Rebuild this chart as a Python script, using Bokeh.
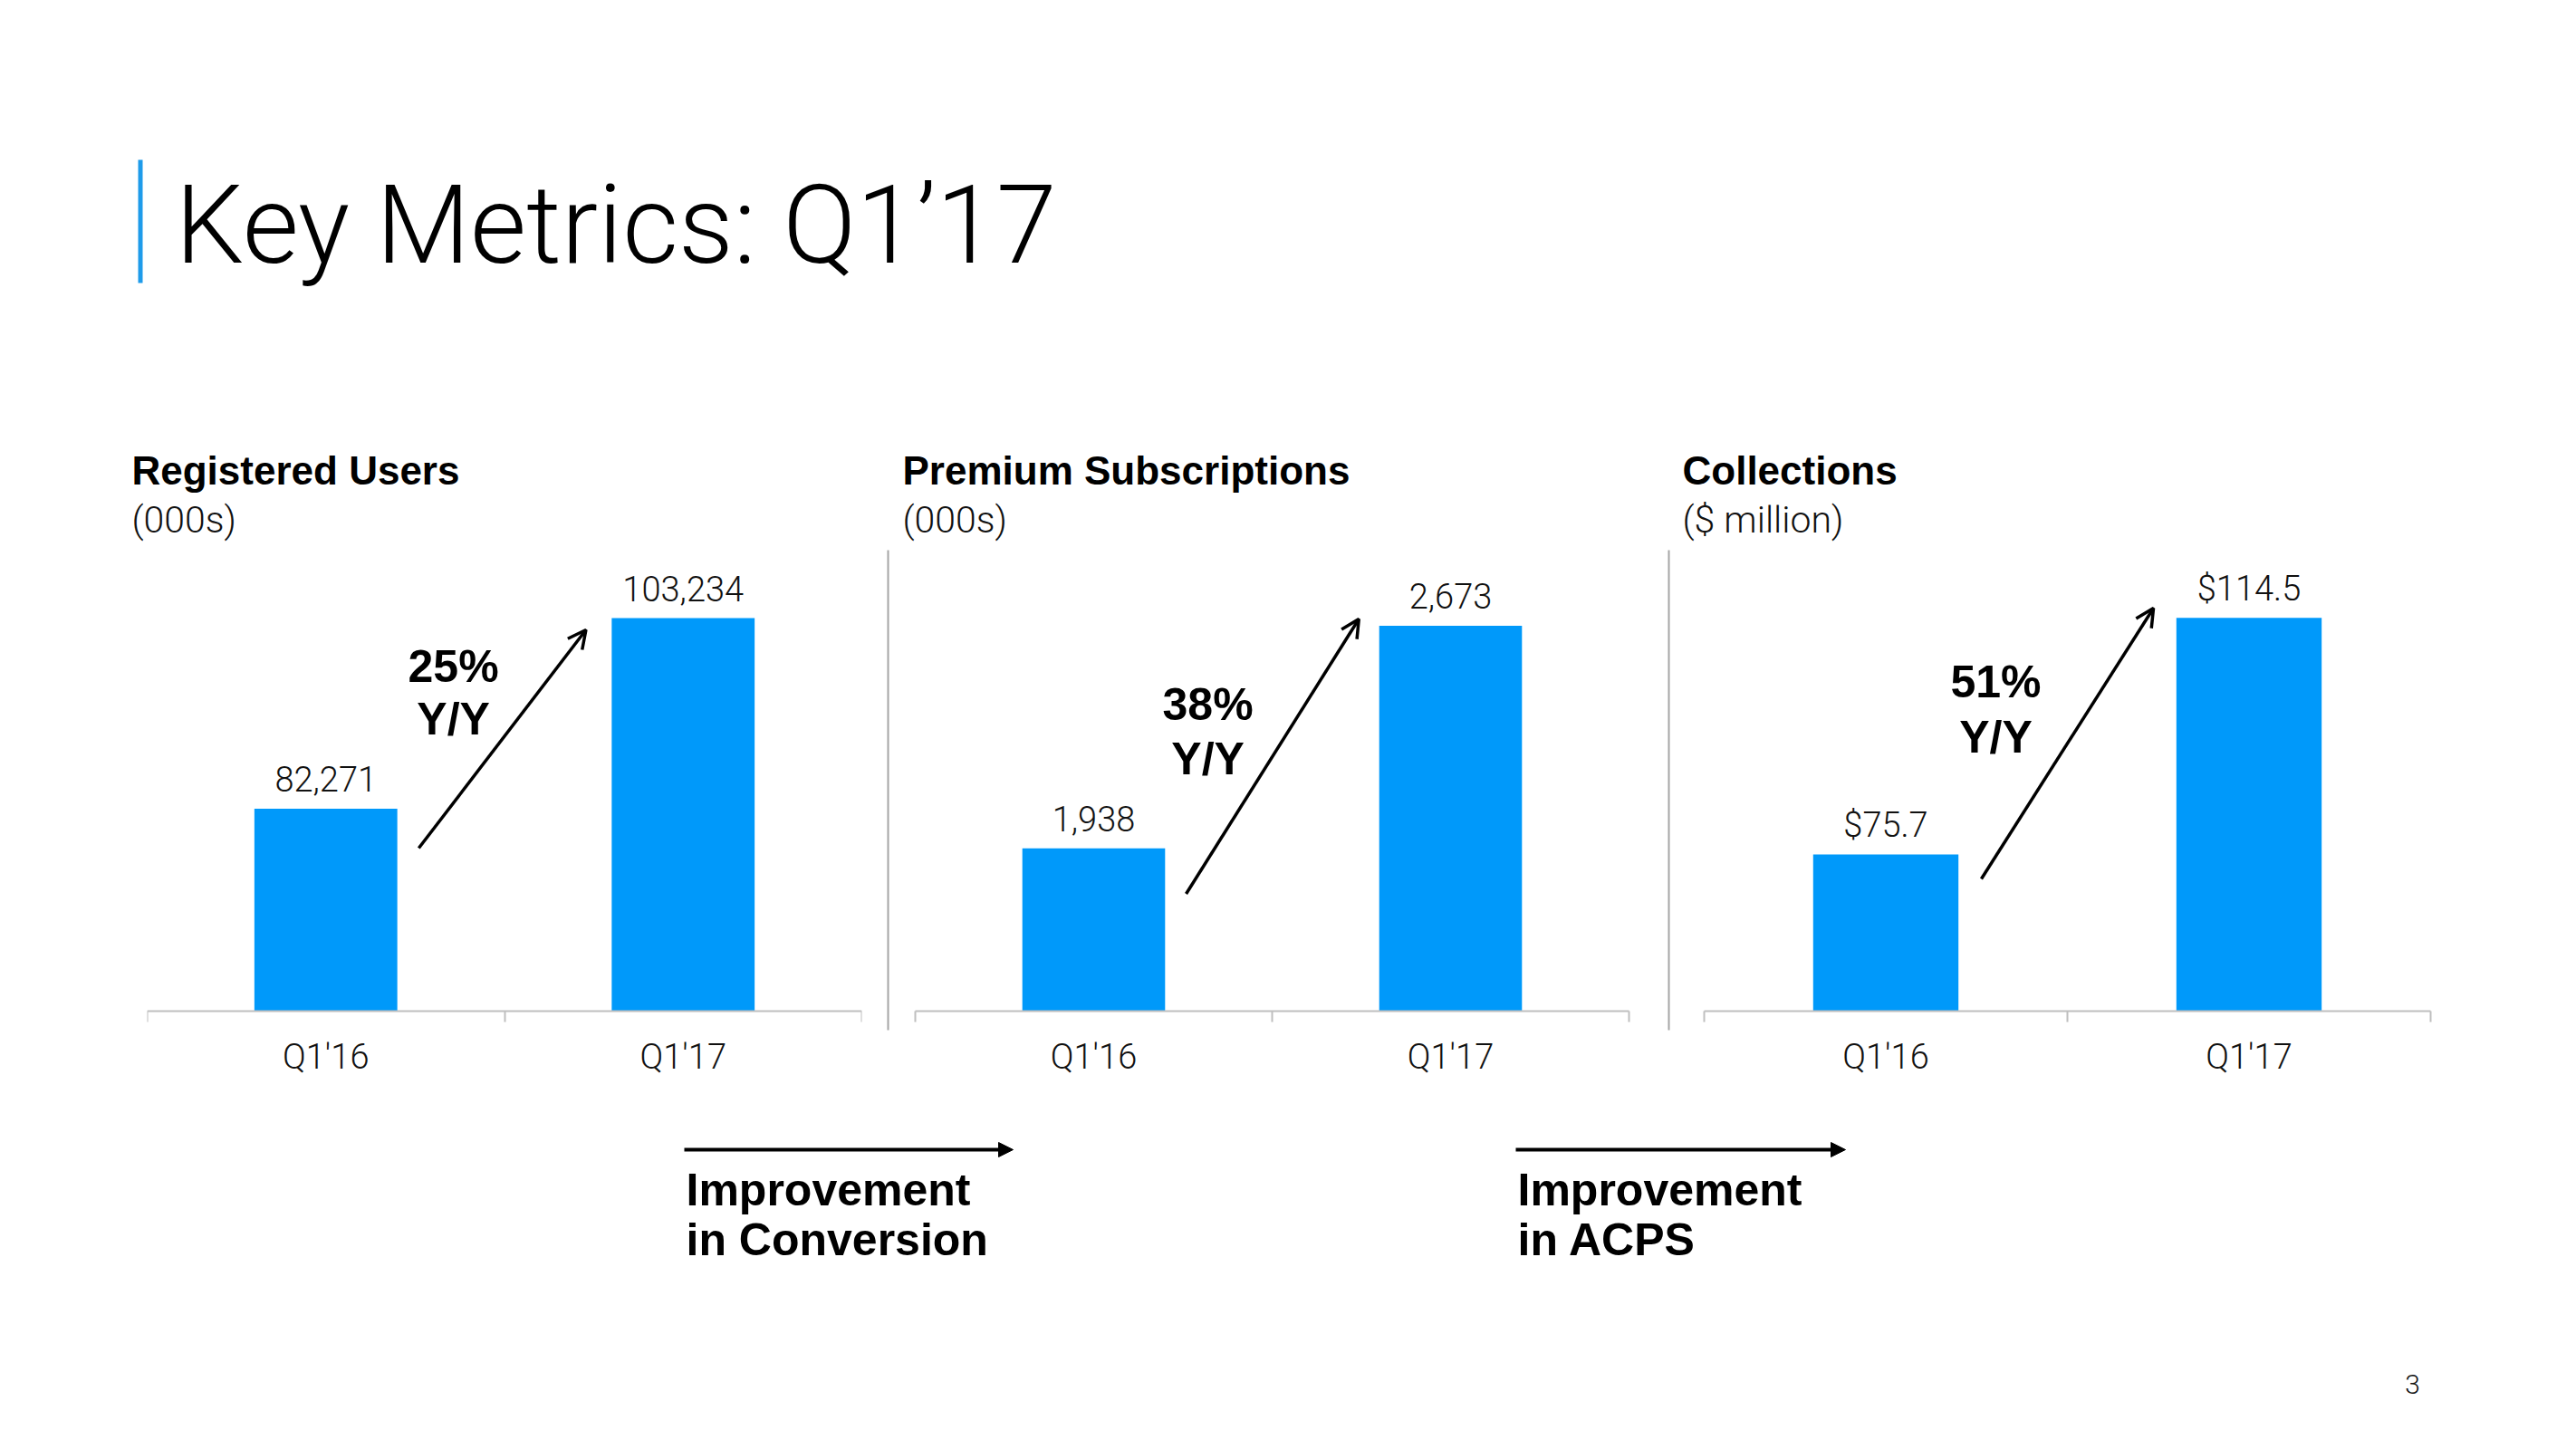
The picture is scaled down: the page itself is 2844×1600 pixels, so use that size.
from bokeh.plotting import figure
from bokeh.layouts import column, row
from bokeh.models import (FactorRange, Range1d, LinearAxis, CategoricalAxis, FixedTicker,
                          Arrow, OpenHead, NormalHead, ColumnDataSource)
from bokeh.core.properties import value
from bokeh.embed import file_html
from bokeh.resources import INLINE

# ---------------- data ----------------
periods = ["Q1'16", "Q1'17"]
users = [82271, 103234]
subscriptions = [1938, 2673]
collections = [75.7, 114.5]
users_labels = ["82,271", "103,234"]
subscriptions_labels = ["1,938", "2,673"]
collections_labels = ["$75.7", "$114.5"]
growth = ["25%", "38%", "51%"]
growth_unit = "Y/Y"
panel_titles = ["Registered Users", "Premium Subscriptions", "Collections"]
panel_units = ["(000s)", "(000s)", "($ million)"]
slide_title = "Key Metrics: Q1\u201917"
footnotes = [["Improvement", "in Conversion"], ["Improvement", "in ACPS"]]
page_number = "3"

# value-axis windows (start of value axis, top of frame)
axis_base = [60000, 1400, 50]
axis_top = [110700, 2923, 125.6]

BLUE = "#0099FA"
AXIS_GRAY = "#BFBFBF"
SEP_GRAY = "#A6A6A6"
TXT = "#111111"
FONT = "Liberation Sans"
LIGHT = "Roboto Light"
K = 0.38      # baseline correction (em) for alphabetic text
KR = 0.36

FRAME_H = 530
BASE_OFF = 21
ROW_H = 630
ROW_TOP = 607
PAGE_W, PAGE_H = 2844, 1600


def make_panel(values, labels, k, width, bl, br, cat_px, pad_px, separator,
               arrow_px, growth_pos):
    base, top = axis_base[k], axis_top[k]
    ppu = (FRAME_H - BASE_OFF) / (top - base)
    y_start = base - BASE_OFF / ppu

    def up(px):
        return base + px / ppu

    xr = FactorRange(factors=periods, factor_padding=0,
                     range_padding=pad_px / cat_px, range_padding_units="percent")
    p = figure(width=width, height=ROW_H, x_range=xr, y_range=Range1d(y_start, top),
               output_backend="svg", toolbar_location=None,
               x_axis_location=None, y_axis_location=None, title=None,
               min_border_left=bl, min_border_right=br, min_border_top=0,
               min_border_bottom=ROW_H - FRAME_H)
    p.outline_line_color = None
    p.background_fill_color = "white"
    p.border_fill_color = "white"
    p.xgrid.visible = False
    p.ygrid.visible = False

    src = ColumnDataSource(dict(x=periods, top=values, label=labels))
    p.vbar(x="x", top="top", bottom=base, width=0.4, source=src,
           fill_color=BLUE, line_color=None)
    p.text(x="x", y="top", text="label", source=src, y_offset=-19 - KR * 38,
           text_align="center", text_baseline="alphabetic",
           text_font=value(LIGHT), text_font_size="38px", text_color=TXT)

    # boundary ticks + axis line at the value-axis start
    tick_axis = LinearAxis(ticker=FixedTicker(ticks=[0, 1, 2], minor_ticks=[]),
                           fixed_location=base, bounds=(0, 2),
                           major_tick_out=12, major_tick_in=0,
                           minor_tick_out=0, minor_tick_in=0,
                           major_label_overrides={0: "", 1: "", 2: ""},
                           major_label_text_font_size="1px",
                           axis_line_color=AXIS_GRAY, axis_line_width=2,
                           major_tick_line_color=AXIS_GRAY, major_tick_line_width=2)
    p.add_layout(tick_axis, "below")
    cat_axis = CategoricalAxis(axis_line_color=None,
                               major_tick_line_color=None, major_tick_out=0,
                               major_tick_in=0, major_label_standoff=7,
                               major_label_text_font=LIGHT,
                               major_label_text_font_size="38px",
                               major_label_text_color=TXT)
    p.add_layout(cat_axis, "below")

    if separator:
        sep = LinearAxis(ticker=FixedTicker(ticks=[], minor_ticks=[]),
                         major_tick_out=0, major_tick_in=0, minor_tick_out=0,
                         minor_tick_in=0, major_label_standoff=0,
                         major_label_text_font_size="1px",
                         axis_line_color=SEP_GRAY, axis_line_width=2)
        p.add_layout(sep, "left")

    (x0, py0), (x1, py1) = arrow_px
    p.add_layout(Arrow(x_start=x0, y_start=up(py0), x_end=x1, y_end=up(py1),
                       line_width=3.5, line_color="black",
                       end=OpenHead(size=20, line_width=3.5, line_color="black")))
    gx, gy1, gy2 = growth_pos
    gs = 50
    p.text(x=[gx, gx], y=[up(gy1 + K * gs), up(gy2 + K * gs)],
           text=[growth[k], growth_unit],
           text_align="center", text_baseline="alphabetic",
           text_font=value(FONT), text_font_style="bold",
           text_font_size=f"{gs}px", text_color="black")
    return p


p1 = make_panel(users, users_labels, 0, 960, 162, 9, 394.5, 0, False,
                ((0.760, 180), (1.228, 421)), (0.857, 362, 304))
p2 = make_panel(subscriptions, subscriptions_labels, 1, 875, 20, 7, 394, 30, True,
                ((0.759, 129.5), (1.243, 433)), (0.820, 320, 260))
p3 = make_panel(collections, collections_labels, 2, PAGE_W - 1835, 7, PAGE_W - 2722,
                401, 39, True,
                ((0.763, 146), (1.237, 445)), (0.803, 345, 284))


def canvas(y0, y1):
    c = figure(width=PAGE_W, height=y1 - y0, x_range=Range1d(0, PAGE_W),
               y_range=Range1d(y1, y0),
               output_backend="svg", toolbar_location=None,
               x_axis_location=None, y_axis_location=None, title=None,
               min_border_left=0, min_border_right=0, min_border_top=0, min_border_bottom=0)
    c.outline_line_color = None
    c.background_fill_color = "white"
    c.border_fill_color = "white"
    c.xgrid.visible = False
    c.ygrid.visible = False
    return c


# ---------------- header ----------------
head = canvas(0, ROW_TOP)
head.quad(left=[152], right=[157], top=[176], bottom=[312], fill_color="#1E9BEA", line_color=None)
ts = 120
head.text(x=[193], y=[292 - KR * ts], text=[slide_title], text_font=value(LIGHT),
          text_font_size=f"{ts}px", text_color="black", text_baseline="alphabetic")
tx = [145, 996, 1857]
head.text(x=tx, y=[536 - K * 44] * 3, text=panel_titles, text_font=value(FONT),
          text_font_style="bold", text_font_size="44px", text_color="black",
          text_baseline="alphabetic")
head.text(x=tx, y=[588 - KR * 41] * 3, text=panel_units, text_font=value(LIGHT),
          text_font_size="41px", text_color=TXT, text_baseline="alphabetic")

# ---------------- footer ----------------
FOOT_TOP = ROW_TOP + ROW_H
foot = canvas(FOOT_TOP, PAGE_H)
fs = 50
for (xs, xe), lines in zip([(755, 1118), (1673, 2037)], footnotes):
    foot.add_layout(Arrow(x_start=xs, y_start=1269, x_end=xe, y_end=1269,
                          line_width=4, line_color="black",
                          end=NormalHead(size=16, fill_color="black", line_color="black",
                                         line_width=1)))
    foot.text(x=[xs + 2, xs + 2], y=[1332 - K * fs, 1387 - K * fs], text=lines,
              text_font=value(FONT), text_font_style="bold", text_font_size=f"{fs}px",
              text_color="black", text_baseline="alphabetic")
foot.text(x=[2663], y=[1539 - KR * 30], text=[page_number], text_font=value(LIGHT),
          text_font_size="30px", text_color=TXT, text_align="center",
          text_baseline="alphabetic")

layout = column(head, row(p1, p2, p3, spacing=0), foot, spacing=0)
open("out.html", "w").write(file_html(layout, INLINE))
